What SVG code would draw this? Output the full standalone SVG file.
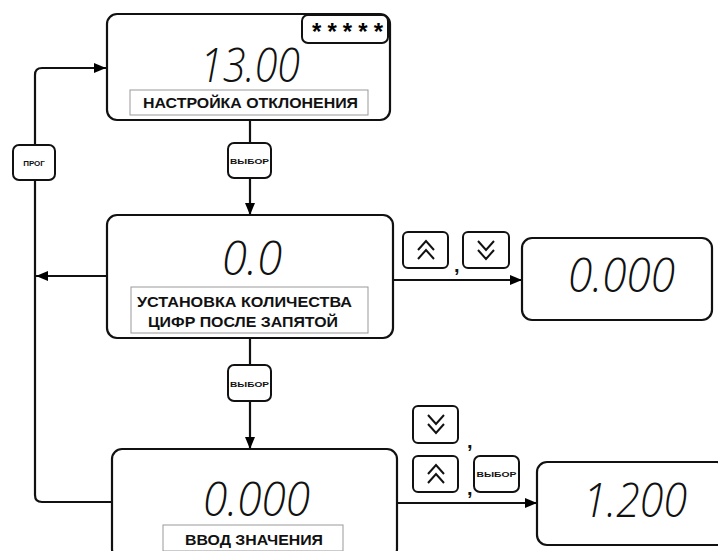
<svg xmlns="http://www.w3.org/2000/svg" width="718" height="551" viewBox="0 0 718 551">
<defs>
<marker id="ah" viewBox="0 0 12 10" refX="12" refY="5" markerWidth="12" markerHeight="10" markerUnits="userSpaceOnUse" orient="auto">
<path d="M0,0 L12,5 L0,10 Z" fill="#000"/>
</marker>
</defs>
<style>
.box{fill:#fff;stroke:#111;stroke-width:2.2}
.lbl{fill:#fff;stroke:#999;stroke-width:1}
.btn{fill:#fff;stroke:#111;stroke-width:2}
.con{fill:none;stroke:#111;stroke-width:2.2}
.dig{font-family:"Open Sans","DejaVu Sans",sans-serif;font-style:italic;font-weight:300;font-size:48px;fill:#111}
.txt{font-family:"Liberation Sans",Arial,sans-serif;font-weight:bold;font-size:15px;fill:#111}
.bt{font-family:"Liberation Sans",Arial,sans-serif;font-weight:bold;font-size:8px;fill:#111;text-anchor:middle}
.chev{fill:none;stroke:#111;stroke-width:2}
.cm{font-family:"Liberation Sans",Arial,sans-serif;font-weight:bold;font-size:20px;fill:#111}
</style>

<g id="connectors">
<path class="con" d="M112,502 L42,502 Q35,502 35,495 L35,75 Q35,68 42,68 L106,68" marker-end="url(#ah)"/>
<path class="con" d="M107,276 L36,276" marker-end="url(#ah)"/>
<path class="con" d="M250,120 L250,143"/>
<path class="con" d="M250,178 L250,215" marker-end="url(#ah)"/>
<path class="con" d="M250,338 L250,365"/>
<path class="con" d="M250,401 L250,449" marker-end="url(#ah)"/>
<path class="con" d="M393,280 L522,280" marker-end="url(#ah)"/>
<path class="con" d="M397,503 L537,503" marker-end="url(#ah)"/>
</g>

<g id="node-top">
<rect class="box" x="107" y="14" width="283" height="106" rx="10"/>
<rect class="btn" x="302" y="15" width="86" height="28" rx="6"/>
<text x="312" y="40" style="font-family:'Liberation Sans',Arial,sans-serif;font-weight:bold;font-size:24px" textLength="71" lengthAdjust="spacing">*****</text>
<text class="dig" x="200" y="82" textLength="100" lengthAdjust="spacingAndGlyphs">13.00</text>
<rect class="lbl" x="130" y="90" width="238" height="25"/>
<text class="txt" x="143" y="108" textLength="215" lengthAdjust="spacingAndGlyphs">НАСТРОЙКА ОТКЛОНЕНИЯ</text>
</g>

<g id="btn-prog">
<rect class="btn" x="13" y="145" width="42" height="35" rx="6"/>
<text class="bt" x="34" y="166">ПРОГ</text>
</g>

<g id="btn-select-1">
<rect class="btn" x="228" y="143" width="43" height="35" rx="6"/>
<text class="bt" x="249.5" y="164" textLength="39" lengthAdjust="spacingAndGlyphs">ВЫБОР</text>
</g>

<g id="node-middle">
<rect class="box" x="107" y="215" width="286" height="123" rx="10"/>
<text class="dig" x="222" y="275" textLength="60" lengthAdjust="spacingAndGlyphs">0.0</text>
<rect class="lbl" x="131" y="287" width="237" height="46"/>
<text class="txt" x="137" y="307" textLength="215" lengthAdjust="spacingAndGlyphs">УСТАНОВКА КОЛИЧЕСТВА</text>
<text class="txt" x="148" y="327" textLength="190" lengthAdjust="spacingAndGlyphs">ЦИФР ПОСЛЕ ЗАПЯТОЙ</text>
</g>

<g id="btn-up-1">
<rect class="btn" x="403" y="232" width="45" height="36" rx="5"/>
<path class="chev" d="M418,250 L426,241 L434,250 M418,259 L426,250 L434,259"/>
</g>
<text class="cm" x="454" y="272">,</text>
<g id="btn-down-1">
<rect class="btn" x="463" y="232" width="46" height="36" rx="5"/>
<path class="chev" d="M478,241 L486,250 L494,241 M478,250 L486,259 L494,250"/>
</g>

<g id="node-right-1">
<rect class="box" x="522" y="238" width="190" height="82" rx="10"/>
<text class="dig" x="568" y="292" textLength="107" lengthAdjust="spacingAndGlyphs">0.000</text>
</g>

<g id="btn-select-2">
<rect class="btn" x="228" y="365" width="43" height="36" rx="6"/>
<text class="bt" x="249.5" y="387" textLength="39" lengthAdjust="spacingAndGlyphs">ВЫБОР</text>
</g>

<g id="node-bottom">
<rect class="box" x="112" y="449" width="285" height="110" rx="10"/>
<text class="dig" x="203" y="516" textLength="107" lengthAdjust="spacingAndGlyphs">0.000</text>
<rect class="lbl" x="163" y="525" width="180" height="26"/>
<text class="txt" x="185" y="545" textLength="138" lengthAdjust="spacingAndGlyphs">ВВОД ЗНАЧЕНИЯ</text>
</g>

<g id="btn-down-2">
<rect class="btn" x="413" y="406" width="45" height="37" rx="5"/>
<path class="chev" d="M428,415 L436,424 L444,415 M428,424 L436,433 L444,424"/>
</g>
<text class="cm" x="467" y="448">,</text>
<g id="btn-up-2">
<rect class="btn" x="413" y="456" width="45" height="36" rx="5"/>
<path class="chev" d="M428,474 L436,465 L444,474 M428,483 L436,474 L444,483"/>
</g>
<text class="cm" x="467" y="495">,</text>
<g id="btn-select-3">
<rect class="btn" x="474" y="456" width="45" height="36" rx="6"/>
<text class="bt" x="496.5" y="477" textLength="40" lengthAdjust="spacingAndGlyphs">ВЫБОР</text>
</g>

<g id="node-right-2">
<rect class="box" x="537" y="462" width="190" height="83" rx="10"/>
<text class="dig" x="583" y="517" textLength="104" lengthAdjust="spacingAndGlyphs">1.200</text>
</g>
</svg>
